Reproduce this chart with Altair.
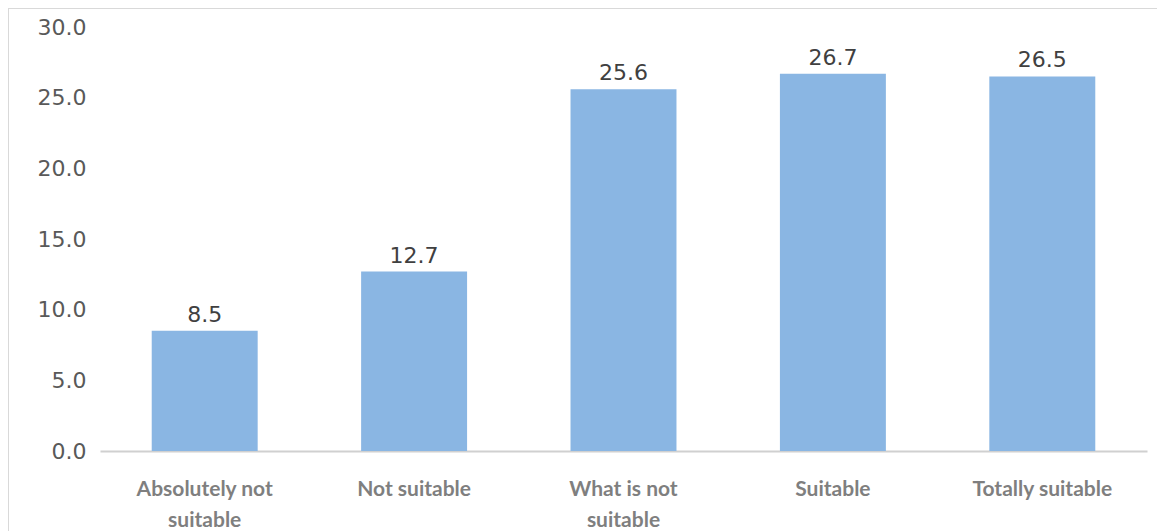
import altair as alt
import pandas as pd

categories = ["Absolutely not suitable", "Not suitable", "What is not suitable", "Suitable", "Totally suitable"]
values = [8.5, 12.7, 25.6, 26.7, 26.5]
y_ticks = [0, 5, 10, 15, 20, 25, 30]

df = pd.DataFrame({"category": categories, "value": values})

NB7 = "\u00a0" * 7
NB8 = "\u00a0" * 8
label_expr = (
    "datum.label == 'Absolutely not suitable' ? ['Absolutely not" + NB7 + "', 'suitable" + NB7 + "'] : "
    "datum.label == 'What is not suitable' ? ['What is not', 'suitable" + NB8 + "'] : datum.label"
)

x_enc = alt.X(
    "category:N",
    sort=categories,
    scale=alt.Scale(paddingInner=0.494, paddingOuter=0.247),
    axis=alt.Axis(
        title=None,
        labelAngle=0,
        labelExpr=label_expr,
        labelFont="Lato",
        labelFontWeight="bold",
        labelFontSize=21,
        labelColor="#7F7F7F",
        labelPadding=27,
        labelLineHeight=31,
        labelBaseline="top",
        ticks=False,
        domainColor="#D0D0D0",
        domainWidth=2,
    ),
)

y_enc = alt.Y(
    "value:Q",
    scale=alt.Scale(domain=[0, 30], nice=False),
    axis=alt.Axis(
        title=None,
        values=y_ticks,
        format=".1f",
        grid=False,
        domain=False,
        ticks=False,
        labelFont="DejaVu Sans",
        labelFontSize=22,
        labelColor="#595959",
        labelPadding=14,
    ),
)

base = alt.Chart(df)

bars = base.mark_bar(color="#8AB6E3").encode(x=x_enc, y=y_enc)

text = base.mark_text(
    baseline="bottom", dy=-4, font="DejaVu Sans", fontSize=22, color="#404040"
).encode(
    x=alt.X("category:N", sort=categories),
    y=alt.Y("value:Q"),
    text=alt.Text("value:Q", format=".1f"),
)

frame = alt.Chart(df).mark_rect(fill="transparent", stroke="#D9D9D9", strokeWidth=1.5).encode(
    x=alt.value(-92), x2=alt.value(1200), y=alt.value(-19), y2=alt.value(700)
)

chart = alt.layer(frame, bars, text).properties(
    width=1047,
    height=424,
    autosize=alt.AutoSizeParams(type="none"),
    padding={"left": 92, "top": 19, "right": 10, "bottom": 100},
).configure_view(stroke=None)

chart.save("out.html", embed_options={"renderer": "svg", "actions": False})
